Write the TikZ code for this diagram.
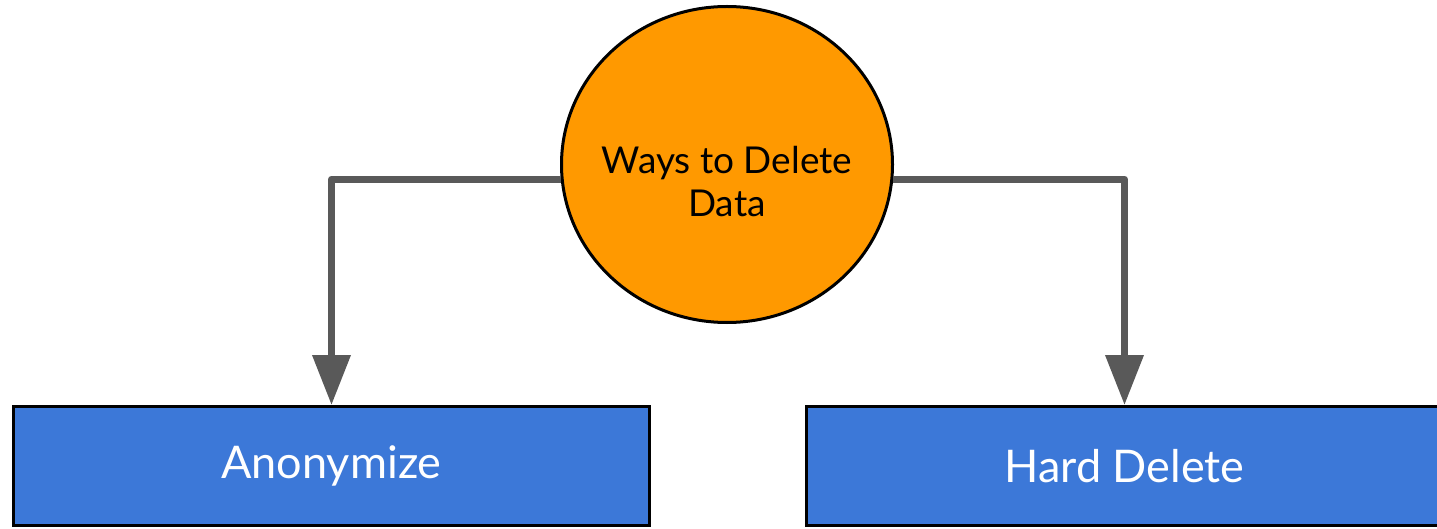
\documentclass[tikz,border=0pt]{standalone}
\usepackage{fontspec}
\setmainfont{Lato}
\usepackage{tikz}
\usetikzlibrary{arrows.meta,positioning,shapes.geometric}
\definecolor{Hub}{HTML}{FF9900}
\definecolor{Way}{HTML}{3C78D8}
\definecolor{Link}{HTML}{595959}

\begin{document}
\begin{tikzpicture}[x=1pt,y=-1pt,>={Triangle[width=37pt,length=50pt]},
  hub/.style={ellipse,draw,line width=3pt,fill=Hub,inner sep=0pt,minimum width=331pt,minimum height=316pt},
  hubtext/.style={align=center,inner sep=0pt,font=\fontsize{37}{43}\selectfont},
  way/.style={draw,line width=3pt,fill=Way,text=white,minimum width=636pt,minimum height=119pt,font=\fontsize{45}{52}\selectfont},
  link/.style={->,draw=Link,line width=7pt,line join=round}]
  \useasboundingbox (0,0) rectangle (1437,529);
  \node[hub] (c) at (727,164.5) {};
  \node[hubtext] (t) at ([yshift=-17pt]c.center) {Ways to Delete\\Data};
  \node[way] (a) at (331.5,466) {Anonymize};
  \node[way] (h) at (1124.5,466) {Hard Delete};
  \draw[link] (c.185) -| (a.north);
  \draw[link] (c.-5) -| (h.north);
\end{tikzpicture}
\end{document}
